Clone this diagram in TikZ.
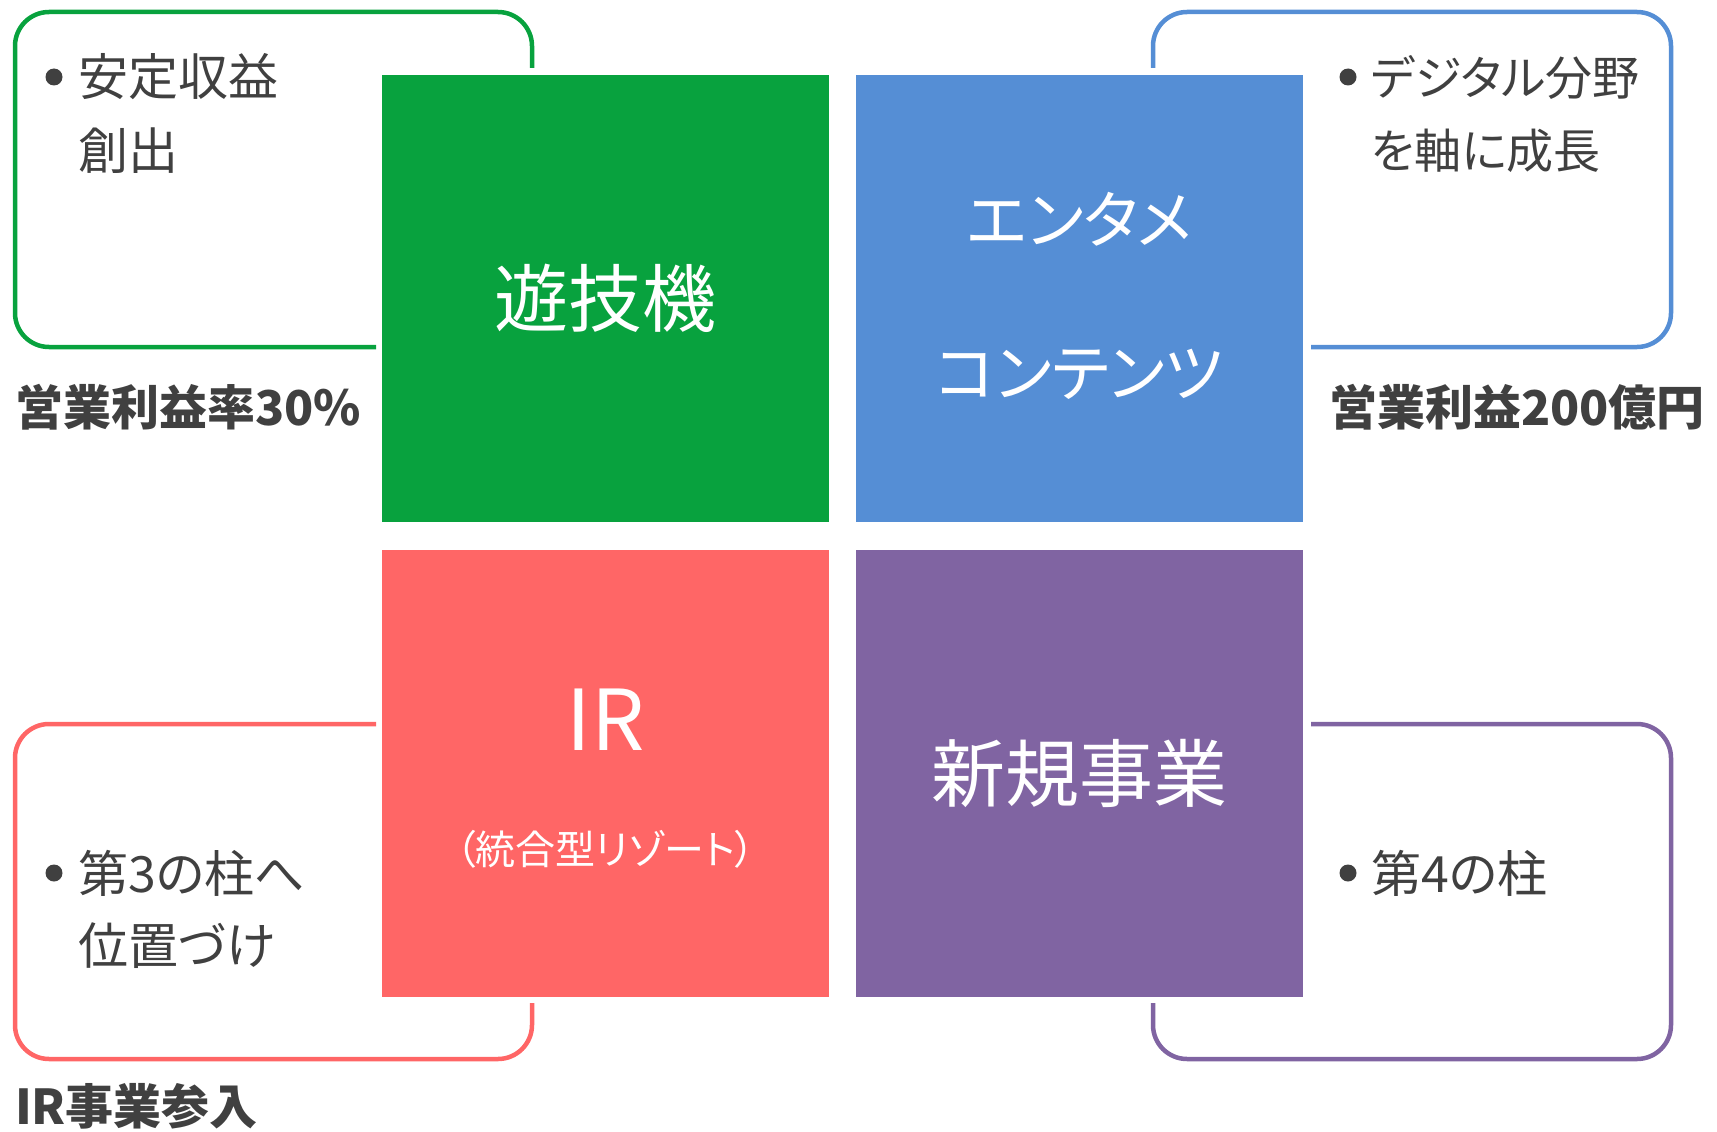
\documentclass[tikz,border=0pt]{standalone}
\usepackage{fontspec}
\setmainfont{Noto Sans CJK JP}[RawFeature=+palt]
\definecolor{cgreen}{HTML}{08A23E}
\definecolor{cblue}{HTML}{558ED5}
\definecolor{cred}{HTML}{FF6666}
\definecolor{cpurple}{HTML}{8064A2}
\definecolor{ctext}{HTML}{404040}
\tikzset{
  sq/.style={minimum width=447pt, minimum height=447pt, inner sep=0pt, draw=none},
  frame/.style={line width=4.5pt, rounded corners=34pt},
  body/.style={anchor=west, inner sep=0pt, text=ctext, font=\fontsize{50}{60}\selectfont},
  kpi/.style={anchor=west, inner sep=0pt, text=ctext, font=\fontsize{48}{58}\selectfont\bfseries},
  big/.style={inner sep=0pt, text=white, font=\fontsize{74}{80}\selectfont},
  kana/.style={inner sep=0pt, text=white, font=\fontsize{63}{70}\selectfont},
  bul/.style={fill=ctext}
}
\begin{document}
\begin{tikzpicture}[x=1pt,y=-1pt]
\useasboundingbox (0,0) rectangle (1717,1132);
% squares
\node[sq, fill=cgreen]  (game) at (605.5,298.5) {};
\node[sq, fill=cblue]   (ent)  at (1079.5,298.5) {};
\node[sq, fill=cred]    (ir)   at (605.5,773) {};
\node[sq, fill=cpurple] (new)  at (1079.5,773) {};
% frames
\draw[frame, cgreen]  (532,68) -- (532,12) -- (15,12) -- (15,347) -- (376,347);
\draw[frame, cblue]   (1153,68) -- (1153,12) -- (1671,12) -- (1671,347) -- (1311,347);
\draw[frame, cred]    (376,724) -- (15,724) -- (15,1059) -- (532,1059) -- (532,1003);
\draw[frame, cpurple] (1311,724) -- (1671,724) -- (1671,1059) -- (1153,1059) -- (1153,1003);
% square texts
\node[big] (t1) at (605.5,298) {遊技機};
\node[kana] (t2a) at (1079.5,219) {エンタメ};
\node[kana] (t2b) at (1079.5,374) {コンテンツ};
\node[inner sep=0pt, text=white, font=\fontsize{84}{90}\selectfont] (t3a) at (605.5,720) {IR};
\node[inner sep=0pt, text=white, font=\fontsize{40}{46}\selectfont] (t3b) at (605.5,849) {（統合型リゾート）};
\node[big] (t4) at (1079.5,773) {新規事業};
% bullets and texts
\fill[bul] (54,77) circle (8.5);
\node[body] (g1) at (78,77) {安定収益};
\node[body] (g2) at (78,151) {創出};
\node[kpi] (g3) at (15,407) {営業利益率30\%};
\fill[bul] (1348,77) circle (8.5);
\node[body, font=\fontsize{47}{56}\selectfont] (b1) at (1371,77) {デジタル分野};
\node[body, font=\fontsize{47}{56}\selectfont] (b2) at (1371,151) {を軸に成長};
\node[kpi] (b3) at (1329,407) {営業利益200億円};
\fill[bul] (54,873) circle (8.5);
\node[body] (r1) at (78,873) {第3の柱へ};
\node[body] (r2) at (78,946) {位置づけ};
\node[kpi] (r3) at (15,1106) {IR事業参入};
\fill[bul] (1348,873) circle (8.5);
\node[body] (p1) at (1371,873) {第4の柱};
\end{tikzpicture}
\end{document}
